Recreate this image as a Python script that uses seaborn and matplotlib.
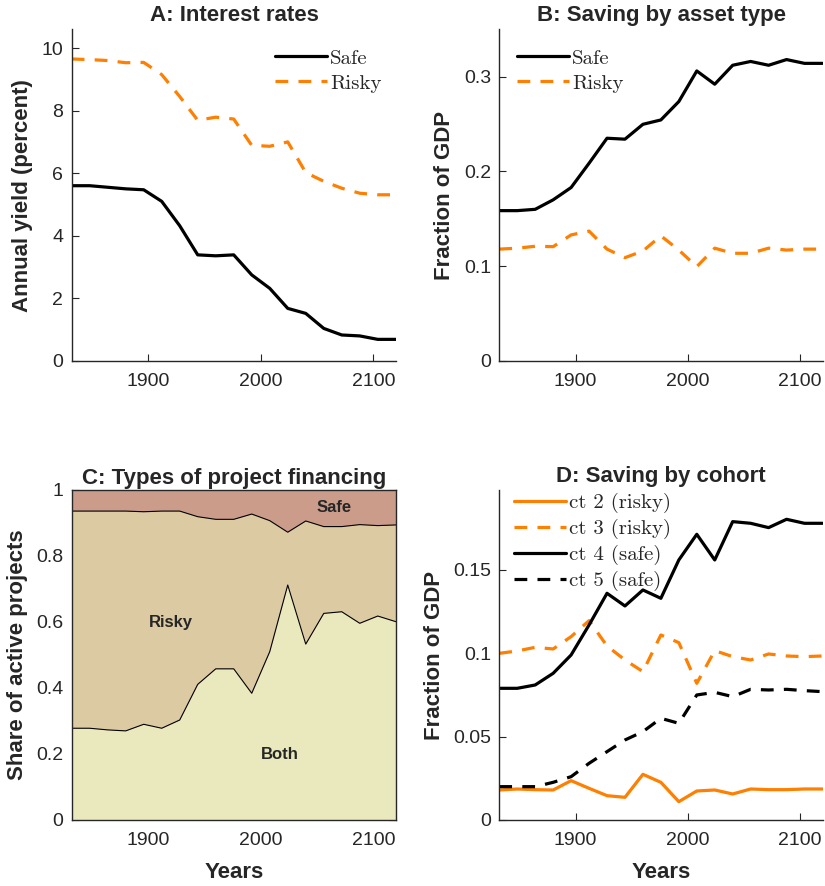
import numpy as np
import pandas as pd
import matplotlib
matplotlib.use("Agg")
import matplotlib.pyplot as plt
import seaborn as sns

years = [1832, 1848, 1864, 1880, 1896, 1912, 1928, 1944, 1960, 1976,
         1992, 2008, 2024, 2040, 2056, 2072, 2088, 2104, 2120]

# Panel A: interest rates (percent)
rate_safe = [5.60, 5.60, 5.55, 5.50, 5.47, 5.10, 4.32, 3.39, 3.36, 3.39,
             2.75, 2.32, 1.68, 1.52, 1.04, 0.83, 0.80, 0.69, 0.69]
rate_risky = [9.65, 9.63, 9.60, 9.53, 9.54, 9.15, 8.45, 7.69, 7.79, 7.73,
              6.89, 6.86, 7.00, 6.02, 5.74, 5.52, 5.36, 5.31, 5.31]

# Panel B: saving by asset type (fraction of GDP)
sav_safe = [0.1586, 0.1586, 0.160, 0.170, 0.183, 0.2086, 0.235, 0.234, 0.2497, 0.2543,
            0.2737, 0.306, 0.292, 0.312, 0.316, 0.312, 0.318, 0.314, 0.314]
sav_risky = [0.118, 0.119, 0.121, 0.1206, 0.133, 0.137, 0.118, 0.109, 0.116, 0.132,
             0.117, 0.0995, 0.119, 0.1136, 0.1136, 0.119, 0.117, 0.118, 0.118]

# Panel C: types of project financing (cumulative shares)
share_both = [0.278, 0.278, 0.273, 0.270, 0.290, 0.278, 0.303, 0.411, 0.458, 0.458,
              0.384, 0.510, 0.712, 0.533, 0.626, 0.631, 0.596, 0.618, 0.601]
share_both_risky = [0.936, 0.936, 0.936, 0.936, 0.934, 0.936, 0.936, 0.919, 0.911, 0.911,
                    0.927, 0.907, 0.872, 0.906, 0.889, 0.889, 0.895, 0.892, 0.894]

# Panel D: saving by cohort (fraction of GDP)
ct2_risky = [0.018, 0.0186, 0.0182, 0.018, 0.0236, 0.019, 0.0146, 0.0136, 0.0274, 0.0226,
             0.011, 0.0174, 0.018, 0.0156, 0.0186, 0.0182, 0.0182, 0.0186, 0.0186]
ct3_risky = [0.100, 0.1014, 0.1036, 0.1026, 0.110, 0.1196, 0.1044, 0.096, 0.089, 0.111,
             0.1064, 0.082, 0.1016, 0.098, 0.096, 0.0996, 0.0984, 0.098, 0.0984]
ct4_safe = [0.079, 0.079, 0.081, 0.088, 0.099, 0.117, 0.136, 0.1284, 0.138, 0.133,
            0.156, 0.1714, 0.156, 0.179, 0.178, 0.1754, 0.1804, 0.178, 0.178]
ct5_safe = [0.020, 0.020, 0.020, 0.0226, 0.026, 0.034, 0.041, 0.048, 0.053, 0.061,
            0.058, 0.075, 0.0766, 0.074, 0.0784, 0.078, 0.0784, 0.0776, 0.077]

xticks = [1900, 2000, 2100]

sns.set_theme(style="white")
plt.rcParams['font.family'] = ['Liberation Sans', 'DejaVu Sans']
plt.rcParams['axes.edgecolor'] = '#262626'
plt.rcParams['xtick.color'] = '#262626'
plt.rcParams['ytick.color'] = '#262626'

ORANGE = '#FF7F00'
BLACK = '#000000'
LW = 2.3
DASH = (4.0, 3.2)
TICK_FS = 14
TITLE_FS = 16
LABEL_FS = 16
LEG_PROP = {'family': 'cmr10', 'size': 15}

fig = plt.figure(figsize=(8.25, 8.86), dpi=100)
axA = fig.add_axes([0.0869, 0.5926, 0.3935, 0.3744])
axB = fig.add_axes([0.6052, 0.5926, 0.3924, 0.3744])
axC = fig.add_axes([0.0869, 0.0745, 0.3935, 0.3725])
axD = fig.add_axes([0.6052, 0.0745, 0.3924, 0.3725])


def style_axis(ax, box=False):
    for s in ['left', 'bottom']:
        ax.spines[s].set_visible(True)
        ax.spines[s].set_linewidth(1.0)
        ax.spines[s].set_color('#262626')
    for s in ['top', 'right']:
        ax.spines[s].set_visible(box)
        ax.spines[s].set_linewidth(1.0)
        ax.spines[s].set_color('#262626')
    ax.tick_params(direction='in', length=5, width=0.8, labelsize=TICK_FS,
                   top=box, right=box, bottom=True, left=True)
    ax.tick_params(axis='x', pad=9)
    ax.tick_params(axis='y', pad=6)
    ax.set_xlim(1832, 2120.5)
    ax.set_xticks(xticks)
    ax.grid(False)


def line(ax, y, color, dashed, label):
    df = pd.DataFrame({'year': years, 'v': y})
    sns.lineplot(data=df, x='year', y='v', ax=ax, color=color, lw=LW, label=label,
                 legend=False)
    ln = ax.lines[-1]
    if dashed:
        ln.set_dashes(DASH)
    ln.set_label(label)


LEG_KW = dict(frameon=False, prop=LEG_PROP, handlelength=2.5,
              handletextpad=0.15, borderaxespad=0.0, borderpad=0.0)

# Panel A
line(axA, rate_safe, BLACK, False, 'Safe')
line(axA, rate_risky, ORANGE, True, 'Risky')
style_axis(axA)
axA.set_ylim(0, 10.6)
axA.set_yticks([0, 2, 4, 6, 8, 10])
axA.set_title('A: Interest rates', fontsize=TITLE_FS, fontweight='bold', pad=6)
axA.set_ylabel('Annual yield (percent)', fontsize=LABEL_FS, fontweight='bold', labelpad=6)
axA.set_xlabel('')
axA.legend(loc='upper right', labelspacing=0.3, bbox_to_anchor=(0.955, 0.94), **LEG_KW)

# Panel B
line(axB, sav_safe, BLACK, False, 'Safe')
line(axB, sav_risky, ORANGE, True, 'Risky')
style_axis(axB)
axB.set_ylim(0, 0.35)
axB.set_yticks([0, 0.1, 0.2, 0.3])
axB.set_yticklabels(['0', '0.1', '0.2', '0.3'])
axB.set_title('B: Saving by asset type', fontsize=TITLE_FS, fontweight='bold', pad=6)
axB.set_ylabel('Fraction of GDP', fontsize=LABEL_FS, fontweight='bold', labelpad=6)
axB.set_xlabel('')
axB.legend(loc='upper left', labelspacing=0.3, bbox_to_anchor=(0.055, 0.94), **LEG_KW)

# Panel C
C_SAFE = '#CC9C8B'
C_RISKY = '#DCCAA3'
C_BOTH = '#EAE8BD'
axC.fill_between(years, 0, share_both, color=C_BOTH, lw=0)
axC.fill_between(years, share_both, share_both_risky, color=C_RISKY, lw=0)
axC.fill_between(years, share_both_risky, 1, color=C_SAFE, lw=0)
dfc = pd.DataFrame({'year': years, 'both': share_both, 'top': share_both_risky})
sns.lineplot(data=dfc, x='year', y='both', ax=axC, color='black', lw=0.8)
sns.lineplot(data=dfc, x='year', y='top', ax=axC, color='black', lw=0.8)
style_axis(axC, box=True)
axC.set_ylim(0, 1)
axC.set_yticks([0, 0.2, 0.4, 0.6, 0.8, 1])
axC.set_yticklabels(['0', '0.2', '0.4', '0.6', '0.8', '1'])
axC.set_title('C: Types of project financing', fontsize=TITLE_FS, fontweight='bold', pad=4)
axC.set_ylabel('Share of active projects', fontsize=LABEL_FS, fontweight='bold', labelpad=6)
axC.set_xlabel('Years', fontsize=LABEL_FS, fontweight='bold', labelpad=9)
axC.text(2065, 0.948, 'Safe', fontsize=12, fontweight='bold', ha='center', va='center')
axC.text(1920, 0.597, 'Risky', fontsize=12, fontweight='bold', ha='center', va='center')
axC.text(2017, 0.197, 'Both', fontsize=12, fontweight='bold', ha='center', va='center')
axC.set_zorder(1)

# Panel D
line(axD, ct2_risky, ORANGE, False, 'ct 2 (risky)')
line(axD, ct3_risky, ORANGE, True, 'ct 3 (risky)')
line(axD, ct4_safe, BLACK, False, 'ct 4 (safe)')
line(axD, ct5_safe, BLACK, True, 'ct 5 (safe)')
style_axis(axD)
axD.set_ylim(0, 0.198)
axD.set_yticks([0, 0.05, 0.1, 0.15])
axD.set_yticklabels(['0', '0.05', '0.1', '0.15'])
axD.set_title('D: Saving by cohort', fontsize=TITLE_FS, fontweight='bold', pad=6)
axD.set_ylabel('Fraction of GDP', fontsize=LABEL_FS, fontweight='bold', labelpad=6)
axD.set_xlabel('Years', fontsize=LABEL_FS, fontweight='bold', labelpad=9)
axD.legend(loc='upper left', labelspacing=0.28, bbox_to_anchor=(0.045, 0.99), **LEG_KW)

fig.savefig('out.png', dpi=100)
